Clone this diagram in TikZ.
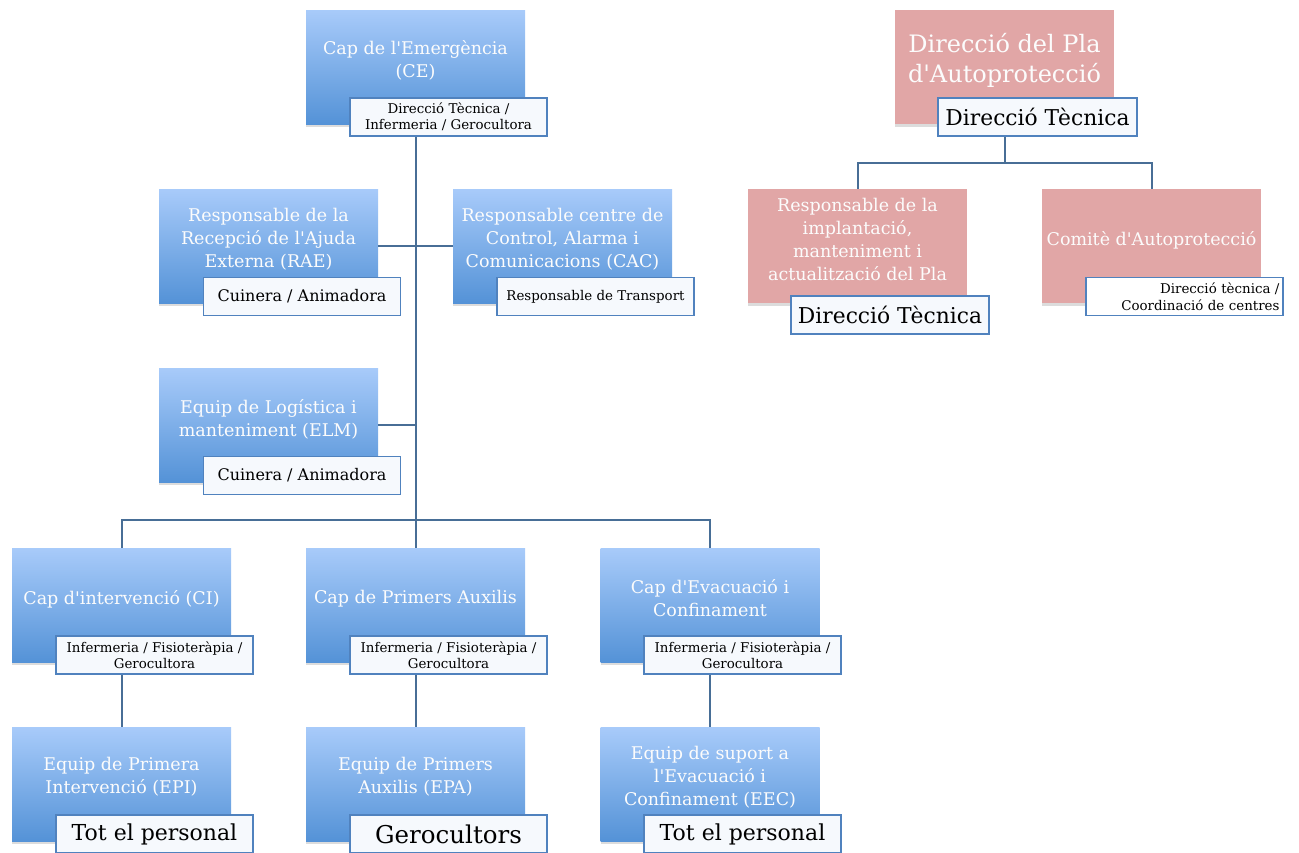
\documentclass[tikz,border=0pt]{standalone}
\usepackage{fontspec}
\setmainfont{DejaVu Serif}[Ligatures=TeXOff]
\usetikzlibrary{shadows}

\definecolor{bluetop}{RGB}{168, 203, 250}
\definecolor{bluebot}{RGB}{84, 146, 215}
\definecolor{pinkfill}{RGB}{225, 166, 166}
\definecolor{tagborder}{RGB}{80, 130, 190}
\definecolor{tagfill}{RGB}{246, 249, 253}
\definecolor{linkcol}{RGB}{72, 110, 150}
\definecolor{whitetext}{RGB}{252, 252, 252}

\begin{document}
\begin{tikzpicture}[x=1pt, y=-1pt,
    rolebox/.style={minimum width=219pt, minimum height=114pt, inner sep=0pt,
        top color=bluetop, bottom color=bluebot, draw=none,
        drop shadow={opacity=0.28, shadow xshift=0pt, shadow yshift=-3pt}},
    pinkbox/.style={minimum width=219pt, minimum height=114pt, inner sep=0pt,
        fill=pinkfill, draw=none,
        drop shadow={opacity=0.28, shadow xshift=0pt, shadow yshift=-3pt}},
    roletext/.style={whitetext, align=center, inner sep=0pt,
        font=\fontsize{17.5}{23}\selectfont},
    tagbox/.style={minimum width=197pt, minimum height=38pt, inner sep=2pt,
        fill=tagfill, draw=tagborder, line width=1.6pt, align=center,
        font=\fontsize{13.4}{16.5}\selectfont},
    link/.style={linkcol, line width=2pt}]
    \clip (0,0) rectangle (1299,852);
    \useasboundingbox (0,0) rectangle (1299,852);

    % Left chart: boxes
    \node[rolebox] (ce) at (415.5,67) {};
    \node[rolebox] (rae) at (268.5,246) {};
    \node[rolebox] (cac) at (562.5,246) {};
    \node[rolebox] (elm) at (268.5,425) {};
    \node[rolebox] (ci) at (121.5,605) {};
    \node[rolebox] (cpa) at (415.5,605) {};
    \node[rolebox] (cec) at (710,605) {};
    \node[rolebox] (epi) at (121.5,784) {};
    \node[rolebox] (epa) at (415.5,784) {};
    \node[rolebox] (eec) at (710,784) {};

    % Right chart: boxes
    \node[pinkbox] (dpa) at (1004.5,67) {};
    \node[pinkbox] (rip) at (857.5,246) {};
    \node[pinkbox] (cap) at (1151.5,246) {};

    % Junctions
    \coordinate (hub) at (415.5,520);
    \coordinate (rhub) at (1004.5,163);

    % Connectors
    \draw[link] (ce.center |- 0,136) -- (hub);
    \draw[link] (rae.east) -- (cac.west);
    \draw[link] (elm.east) -- (elm.east -| ce);
    \draw[link] (ci.north) |- (hub) -| (cec.north);
    \draw[link] (hub) -- (cpa.north);
    \draw[link] (ci.south) -- (epi.north);
    \draw[link] (cpa.south) -- (epa.north);
    \draw[link] (cec.south) -- (eec.north);
    \draw[link] (dpa.south) -- (rhub);
    \draw[link] (rip.north) |- (rhub) -| (cap.north);

    % Box titles
    \node[roletext] (ce-l) at ([yshift=7pt]ce.center) {Cap de l'Emergència\\(CE)};
    \node[roletext] (rae-l) at ([yshift=7pt]rae.center) {Responsable de la\\Recepció de l'Ajuda\\Externa (RAE)};
    \node[roletext] (cac-l) at ([yshift=7pt]cac.center) {Responsable centre de\\Control, Alarma i\\Comunicacions (CAC)};
    \node[roletext] (elm-l) at ([yshift=6pt]elm.center) {Equip de Logística i\\manteniment (ELM)};
    \node[roletext] (ci-l) at ([yshift=6pt]ci.center) {Cap d'intervenció (CI)};
    \node[roletext] (cpa-l) at ([yshift=6pt]cpa.center) {Cap de Primers Auxilis};
    \node[roletext] (cec-l) at ([yshift=7pt]cec.center) {Cap d'Evacuació i\\Confinament};
    \node[roletext] (epi-l) at ([yshift=7pt]epi.center) {Equip de Primera\\Intervenció (EPI)};
    \node[roletext] (epa-l) at ([yshift=7pt]epa.center) {Equip de Primers\\Auxilis (EPA)};
    \node[roletext] (eec-l) at ([yshift=7pt]eec.center) {Equip de suport a\\l'Evacuació i\\Confinament (EEC)};
    \node[roletext, font=\fontsize{24}{30}\selectfont] (dpa-l) at ([yshift=7pt]dpa.center) {Direcció del Pla\\d'Autoprotecció};
    \node[roletext] (rip-l) at ([yshift=7pt]rip.center) {Responsable de la\\implantació,\\manteniment i\\actualització del Pla};
    \node[roletext] (cap-l) at ([yshift=6pt]cap.center) {Comitè d'Autoprotecció};

    % Tags
    \node[tagbox] (ce-t) at (448.5,117) {Direcció Tècnica /\\Infermeria / Gerocultora};
    \node[tagbox, font=\fontsize{16}{19}\selectfont] (rae-t) at (302,296.5) {Cuinera / Animadora};
    \node[tagbox] (cac-t) at (595.5,296.5) {Responsable de Transport};
    \node[tagbox, font=\fontsize{16}{19}\selectfont] (elm-t) at (302,475.5) {Cuinera / Animadora};
    \node[tagbox] (ci-t) at (154.5,655) {Infermeria / Fisioteràpia /\\Gerocultora};
    \node[tagbox] (cpa-t) at (448.5,655) {Infermeria / Fisioteràpia /\\Gerocultora};
    \node[tagbox] (cec-t) at (742.5,655) {Infermeria / Fisioteràpia /\\Gerocultora};
    \node[tagbox, font=\fontsize{22}{26}\selectfont] (epi-t) at (154.5,834) {Tot el personal};
    \node[tagbox, font=\fontsize{24.5}{28}\selectfont] (epa-t) at (448.5,834) {Gerocultors};
    \node[tagbox, font=\fontsize{22}{26}\selectfont] (eec-t) at (742.5,834) {Tot el personal};
    \node[tagbox, minimum width=199pt, font=\fontsize{21.8}{26}\selectfont] (dpa-t) at (1037.5,117) {Direcció Tècnica};
    \node[tagbox, minimum width=198pt, font=\fontsize{21.8}{26}\selectfont] (rip-t) at (890,315) {Direcció Tècnica};
    \node[tagbox, align=right, text width=190pt, fill=white] (cap-t) at (1184.5,296.5) {Direcció tècnica /\\Coordinació de centres};

\end{tikzpicture}
\end{document}
